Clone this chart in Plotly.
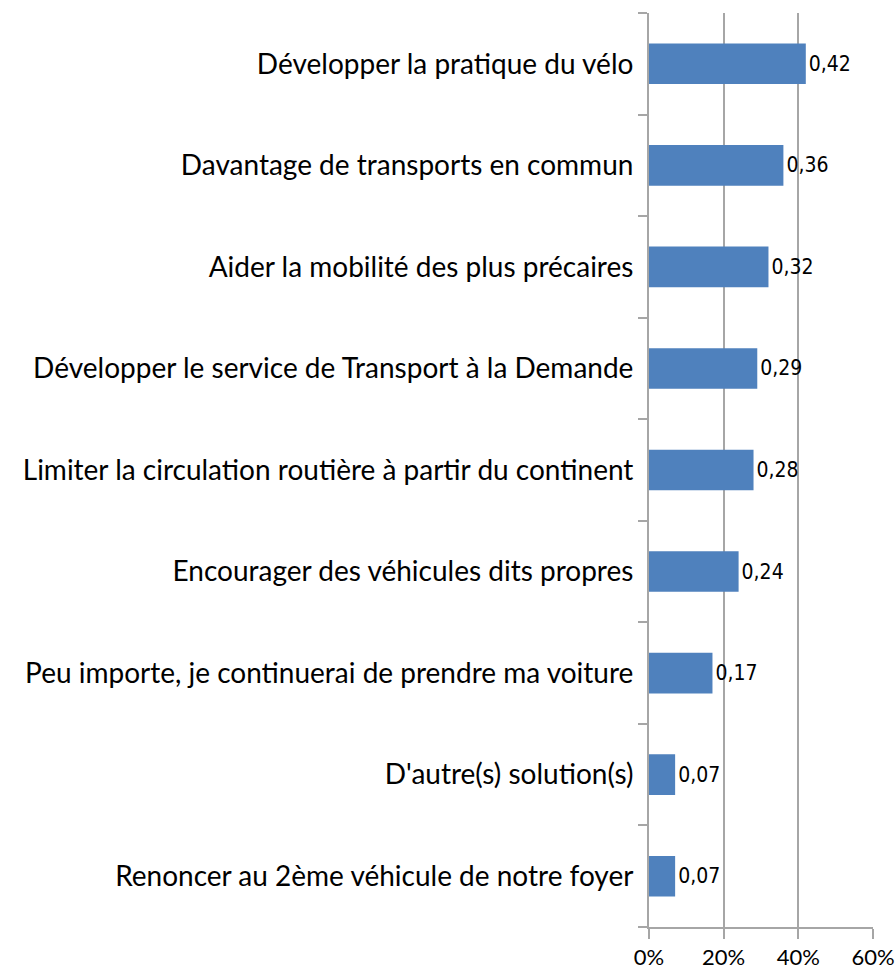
import plotly.graph_objects as go

categories = [
    "Développer la pratique du vélo",
    "Davantage de transports en commun",
    "Aider la mobilité des plus précaires",
    "Développer le service de Transport à la Demande",
    "Limiter la circulation routière à partir du continent",
    "Encourager des véhicules dits propres",
    "Peu importe, je continuerai de prendre ma voiture",
    "D'autre(s) solution(s)",
    "Renoncer au 2ème véhicule de notre foyer",
]
values = [0.42, 0.36, 0.32, 0.29, 0.28, 0.24, 0.17, 0.07, 0.07]
value_labels = ["0,42", "0,36", "0,32", "0,29", "0,28", "0,24", "0,17", "0,07", "0,07"]
x_ticks = [0, 0.2, 0.4, 0.6]
x_tick_labels = ["0%", "20%", "40%", "60%"]

fig = go.Figure(go.Bar(
    y=categories,
    x=values,
    orientation="h",
    marker=dict(color="#4F81BD", line=dict(width=0)),
    width=0.4,
    text=value_labels,
    textposition="outside",
    textfont=dict(family="Liberation Sans Narrow, DejaVu Sans Condensed, sans-serif", size=21, color="#000"),
    cliponaxis=False,
))

fig.update_layout(
    width=895, height=973,
    margin=dict(l=649, r=22, t=13, b=46),
    plot_bgcolor="white", paper_bgcolor="white",
    showlegend=False,
    font=dict(family="Lato, sans-serif", color="#000"),
)
fig.update_xaxes(
    range=[0, 0.6], automargin=False,
    tickvals=x_ticks, ticktext=x_tick_labels,
    showgrid=True, gridcolor="#A6A6A6", gridwidth=2,
    showline=True, linecolor="#A6A6A6", linewidth=2,
    ticks="outside", ticklen=10, tickcolor="#A6A6A6", tickwidth=2,
    tickfont=dict(family="Lato, sans-serif", size=22),
    zeroline=False,
)
fig.update_yaxes(
    categoryorder="array", categoryarray=categories[::-1], automargin=False,
    showline=True, linecolor="#A6A6A6", linewidth=2,
    ticks="outside", ticklen=9, tickcolor="#A6A6A6", tickwidth=2,
    tickson="boundaries",
    tickfont=dict(family="Lato, sans-serif", size=28),
    ticklabelstandoff=8,
    showgrid=False,
)

fig.write_html(
    "out.html",
    config={"displayModeBar": False},
    post_script="document.body.style.margin='0';document.body.style.overflow='hidden';",
)
